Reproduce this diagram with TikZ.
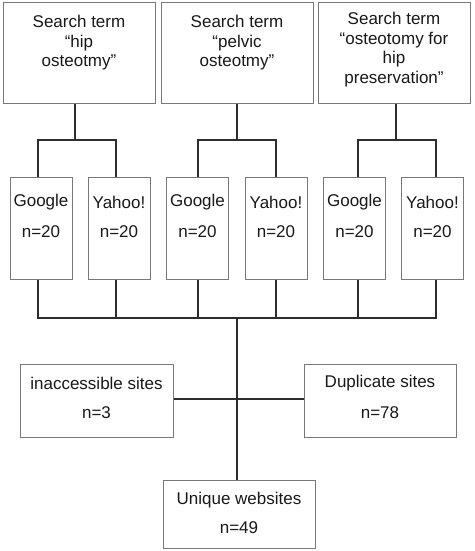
\documentclass[tikz,border=0pt]{standalone}
\usepackage{fontspec}
\setmainfont{Liberation Sans}
\begin{document}
\begin{tikzpicture}[x=1pt,y=-1pt,
  box/.style={draw=boxgray,line width=1pt,fill=white,inner sep=0pt},
  conn/.style={draw=linegray,line width=1.8pt},
  lbl/.style={font=\fontsize{17}{19.5}\selectfont,align=center,text=textgray,inner sep=0pt}]
\definecolor{boxgray}{RGB}{120,120,120}
\definecolor{linegray}{RGB}{45,45,45}
\definecolor{textgray}{RGB}{25,25,25}
\useasboundingbox (0,0) rectangle (474,551);
% top boxes
\node[box,minimum width=152pt,minimum height=100pt] (t1) at (79,53) {};
\node[box,minimum width=152pt,minimum height=100pt] (t2) at (237,53) {};
\node[box,minimum width=152pt,minimum height=100pt] (t3) at (394,53) {};
\node[lbl,anchor=north] (t1txt) at (79,15) {Search term\\“hip\\osteotmy”};
\node[lbl,anchor=north] (t2txt) at (237,15) {Search term\\“pelvic\\osteotmy”};
\node[lbl,anchor=north] (t3txt) at (394,12) {Search term\\“osteotomy for\\hip\\preservation”};
% engine boxes
\foreach \n/\cx/\eng in {g1/41/Google, y1/119/Yahoo!, g2/197.5/Google, y2/276/Yahoo!, g3/354.5/Google, y3/432.5/Yahoo!}{
  \node[box,minimum width=62pt,minimum height=102pt] (\n) at (\cx,228) {};
  \node[lbl] (\n a) at (\cx,202) {\eng};
  \node[lbl] (\n b) at (\cx,232) {n=20};
}
% junctions of top trees
\coordinate (j1) at (75,140);
\coordinate (j2) at (237,140);
\coordinate (j3) at (396,140);
\draw[conn] (t1.south -| j1) -- (j1);
\draw[conn] ([xshift=-3pt]g1.north) |- (j1) -| ([xshift=-3pt]y1.north);
\draw[conn] (t2.south -| j2) -- (j2);
\draw[conn] ([xshift=0.5pt]g2.north) |- (j2) -| (y2.north);
\draw[conn] (t3.south -| j3) -- (j3);
\draw[conn] ([xshift=3.5pt]g3.north) |- (j3) -| ([xshift=3.5pt]y3.north);
% lower bus
\coordinate (bus) at (237,318);
\draw[conn] ([xshift=-3pt]g1.south) |- (bus) -| ([xshift=3.5pt]y3.south);
\draw[conn] ([xshift=-3pt]y1.south) -- ([xshift=-3pt]y1.south |- bus);
\draw[conn] ([xshift=0.5pt]g2.south) -- ([xshift=0.5pt]g2.south |- bus);
\draw[conn] (y2.south) -- (y2.south |- bus);
\draw[conn] ([xshift=3.5pt]g3.south) -- ([xshift=3.5pt]g3.south |- bus);
% bottom boxes
\node[box,minimum width=153pt,minimum height=73pt] (inacc) at (96.5,400.5) {};
\node[lbl] (inacca) at (96.5,383) {inaccessible sites};
\node[lbl] (inaccb) at (96.5,413) {n=3};
\node[box,minimum width=152pt,minimum height=73pt] (dup) at (380,400.5) {};
\node[lbl] (dupa) at (380,383) {Duplicate sites};
\node[lbl] (dupb) at (380,413) {n=78};
\node[box,minimum width=152pt,minimum height=68pt] (uniq) at (239,514) {};
\node[lbl] (uniqa) at (239,500) {Unique websites};
\node[lbl] (uniqb) at (239,528) {n=49};
\coordinate (cross) at (237,399);
\draw[conn] (bus) -- (bus |- uniq.north);
\draw[conn,line width=1.4pt] (inacc.east |- cross) -- (dup.west |- cross);
\end{tikzpicture}
\end{document}
